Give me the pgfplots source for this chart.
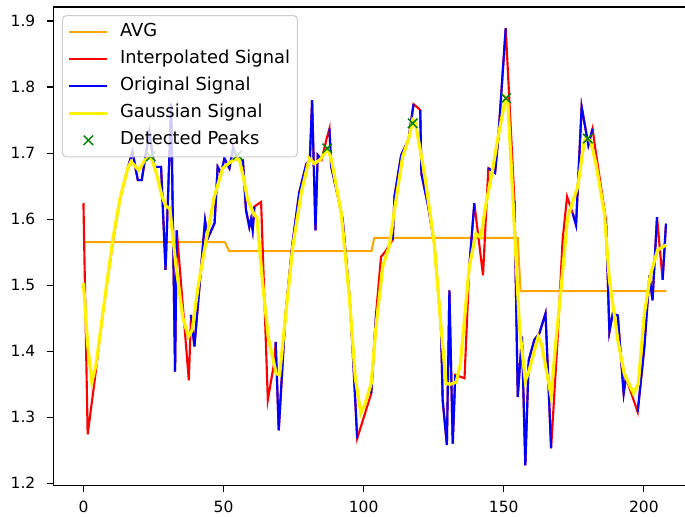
\documentclass[border=0pt]{standalone}
\usepackage{fontspec}
\setmainfont{DejaVu Sans}
\usepackage{pgfplots}
\pgfplotsset{compat=1.18}
\definecolor{mplorange}{HTML}{FFA500}
\definecolor{mplgreen}{HTML}{008000}
\definecolor{legedge}{HTML}{CCCCCC}
\pgfplotsset{
  lineleg/.style={legend image code/.code={\draw[##1] (0pt,0pt) -- (28.5pt,0pt);}},
  peakleg/.style={legend image code/.code={\draw[##1] plot coordinates {(14.25pt,0pt)};}},
}
\begin{document}
\begin{tikzpicture}
\begin{axis}[
  at={(0,0)}, anchor=south west,
  scale only axis,
  width=481.6pt, height=359pt,
  xmin=-10.75, xmax=218.4,
  ymin=1.1964, ymax=1.9212,
  xtick={0,50,100,150,200},
  ytick={1.2,1.3,1.4,1.5,1.6,1.7,1.8,1.9},
  /pgf/number format/assume math mode=true,
  tick label style={font=\fontsize{11.6}{13}\selectfont},
  xticklabel style={yshift=-3pt},
  yticklabel style={xshift=-5pt, /pgf/number format/.cd, fixed, fixed zerofill, precision=1},
  tick align=outside, tick pos=left,
  major tick length=5pt,
  every tick/.style={black, line width=0.8pt},
  axis line style={line width=0.8pt},
  unbounded coords=jump,
  legend cell align=left,
  lineleg,
  legend style={at={(0.0135,0.983)}, anchor=north west, draw=legedge, line width=0.75pt,
    rounded corners=3pt, fill=white, fill opacity=0.8, text opacity=1, draw opacity=1,
    font=\fontsize{13.4}{15}\selectfont, inner xsep=4pt, inner ysep=4.5pt, row sep=4.25pt,
    nodes={inner sep=1.5pt, text height=10pt, text depth=3pt},
    /tikz/every odd column/.style={column sep=6.75pt}},
]
\addplot[mplorange, line width=1.5pt] coordinates {(0,1.565) (50.5,1.565) (52,1.5515) (102.8,1.5515) (103.8,1.5717) (155,1.5717) (156,1.491) (208,1.491)};
\addlegendentry{AVG}
\addplot[red, line width=1.6pt] coordinates {
(0,1.624) (1.5,1.274) (3.9,1.352) (7,1.46) (10.5,1.565) (13,1.63) (15.8,1.677) (17.5,1.702) (19.4,1.659) (20.8,1.659) (23.5,1.732) (25.3,1.679) (27.7,1.679) (29.3,1.523) (31.3,1.775) (32.7,1.369) (33.3,1.583) (37.6,1.356) (38.4,1.455) (39.6,1.407) (43.4,1.598) (44.4,1.571) (46.8,1.594) (47.9,1.679) (49.1,1.669) (50.3,1.692) (52.1,1.677) (53.4,1.708) (55,1.69) (56.9,1.689) (58,1.614) (59.2,1.588) (59.8,1.60) (60.4,1.583) (61,1.619) (63.4,1.626) (65.8,1.326) (68.2,1.386) (68.6,1.414) (69.7,1.280) (72,1.45) (74.5,1.56) (77,1.64) (79.5,1.683) (80.8,1.69) (81.6,1.780) (82.8,1.583) (83.6,1.697) (85,1.69) (86.8,1.722) (87.8,1.737) (88.4,1.68) (90.5,1.64) (92.5,1.60) (95,1.48) (96.1,1.40) (97.7,1.268) (99.7,1.295) (102.7,1.336) (104.5,1.46) (106.2,1.543) (107.6,1.55) (110.4,1.569) (111,1.634) (113.4,1.697) (116,1.72) (117.8,1.774) (119.5,1.768) (120.2,1.765) (120.6,1.669) (123,1.62) (125.2,1.563) (127.6,1.437) (128.2,1.326) (129.7,1.258) (130.6,1.492) (131.8,1.26) (132.7,1.364) (136,1.359) (137.7,1.528) (139.5,1.624) (142.6,1.515) (144.5,1.677) (146.9,1.670) (148,1.72) (150.7,1.889) (153.8,1.629) (155,1.331) (156.5,1.422) (157.7,1.227) (158.9,1.386) (160.9,1.417) (162.7,1.427) (164.9,1.457) (166.9,1.253) (169.2,1.417) (171,1.568) (172.6,1.634) (174.6,1.609) (175.8,1.591) (177.8,1.770) (180.2,1.712) (181.7,1.737) (182.9,1.70) (186.5,1.598) (187.7,1.429) (188.9,1.457) (190.7,1.454) (192.8,1.336) (193.6,1.36) (197.8,1.308) (200.2,1.407) (202,1.515) (203.1,1.477) (204.7,1.603) (206.7,1.508) (207.9,1.593)};
\addlegendentry{Interpolated Signal}
\addplot[blue, line width=1.6pt] coordinates {
(15.8,1.677) (17.5,1.702) (19.4,1.659) (20.8,1.659) (23.5,1.732) (25.3,1.679) (27.7,1.679) (29.3,1.523) (31.3,1.775) (32.7,1.369) (33.3,1.583) (35,nan) (38.4,1.455) (39.6,1.407) (43.4,1.598) (44.4,1.571) (46.8,1.594) (47.9,1.679) (49.1,1.669) (50.3,1.692) (52.1,1.677) (53.4,1.708) (55,1.69) (56.9,1.689) (58,1.614) (59.2,1.588) (59.8,1.60) (60.4,1.583) (61,1.619) (64,nan) (68.6,1.414) (69.7,1.280) (72,1.45) (74.5,1.56) (77,1.64) (79.5,1.683) (80.8,1.69) (81.6,1.780) (82.8,1.583) (83.6,1.697) (85,1.69) (86,nan) (87.8,1.737) (88.4,1.68) (90.5,1.64) (92.5,1.60) (95,1.48) (96.1,1.40) (97.7,1.268) (100,nan) (102.7,1.336) (104.5,1.46) (106,nan) (110.4,1.569) (111,1.634) (113.4,1.697) (116,1.72) (117.8,1.774) (119,nan) (120.2,1.765) (120.6,1.669) (123,1.62) (125.2,1.563) (127.6,1.437) (128.2,1.326) (129.7,1.258) (130.6,1.492) (131.8,1.26) (132.7,1.364) (134,nan) (137.7,1.528) (139.5,1.624) (141,nan) (144.5,1.677) (146.9,1.670) (148,1.72) (150.7,1.889) (152,nan) (153.8,1.629) (155,1.331) (156.5,1.422) (157.7,1.227) (158.9,1.386) (160.9,1.417) (162.7,1.427) (164.9,1.457) (166.9,1.253) (170,nan) (174.6,1.609) (175.8,1.591) (177.8,1.770) (180.2,1.712) (181.7,1.737) (184,nan) (186.5,1.598) (187.7,1.429) (188.9,1.457) (190.7,1.454) (192.8,1.336) (193.6,1.36) (195,nan) (197.8,1.308) (200.2,1.407) (202,1.515) (203.1,1.477) (204.7,1.603) (205.5,nan) (206.7,1.508) (207.9,1.593)};
\addlegendentry{Original Signal}
\addplot[yellow, line width=2.4pt] coordinates {
(0,1.503) (1.5,1.41) (3,1.353) (4.5,1.38) (7,1.46) (10.5,1.57) (13,1.63) (15.8,1.677) (17,1.687) (18.5,1.68) (19.7,1.674) (22,1.69) (24.1,1.694) (26,1.67) (28,1.635) (29.5,1.619) (30.8,1.617) (33,1.53) (35.5,1.45) (37.5,1.422) (38.8,1.432) (41,1.50) (43.8,1.568) (46.7,1.634) (49.7,1.677) (52,1.685) (54.5,1.692) (55.7,1.689) (57,1.665) (58.6,1.629) (61,1.606) (61.9,1.603) (64,1.50) (66,1.42) (68.8,1.366) (70,1.364) (72.3,1.46) (74.7,1.558) (77.7,1.639) (80.6,1.692) (82.4,1.684) (84.5,1.69) (87.2,1.707) (88.5,1.69) (92,1.609) (94.9,1.482) (97,1.36) (99,1.306) (100.5,1.32) (102.7,1.351) (104.4,1.437) (106.8,1.528) (109.2,1.56) (111,1.614) (113.9,1.694) (116.3,1.725) (117.5,1.75) (118.5,1.745) (121.7,1.669) (125.2,1.563) (127.6,1.437) (129.4,1.351) (131,1.35) (133,1.353) (134.5,1.38) (137.7,1.528) (140.1,1.578) (141.8,1.572) (143.7,1.624) (146,1.674) (147.8,1.72) (150.6,1.783) (151.5,1.775) (153.8,1.588) (155.6,1.437) (157.7,1.355) (159,1.37) (162.3,1.422) (163.5,1.41) (166.9,1.332) (168.5,1.41) (170.5,1.497) (172.8,1.603) (176.4,1.649) (178.8,1.720) (180,1.722) (181,1.718) (182.9,1.684) (185.9,1.609) (187.7,1.508) (190.7,1.417) (193,1.366) (196.3,1.336) (198,1.35) (200.2,1.457) (202.3,1.515) (204.9,1.553) (208,1.561)};
\addlegendentry{Gaussian Signal}
\addplot[mplgreen, only marks, mark=x, mark size=5pt, mark options={line width=1.1pt}, peakleg] coordinates {
(24,1.695) (55,1.697) (87,1.707) (117.5,1.745) (150.8,1.783) (180,1.722)};
\addlegendentry{Detected Peaks}
\end{axis}
\pgfresetboundingbox
\path[use as bounding box] (-40pt,-23.5pt) rectangle (473.8pt,364.25pt);
\end{tikzpicture}
\end{document}
